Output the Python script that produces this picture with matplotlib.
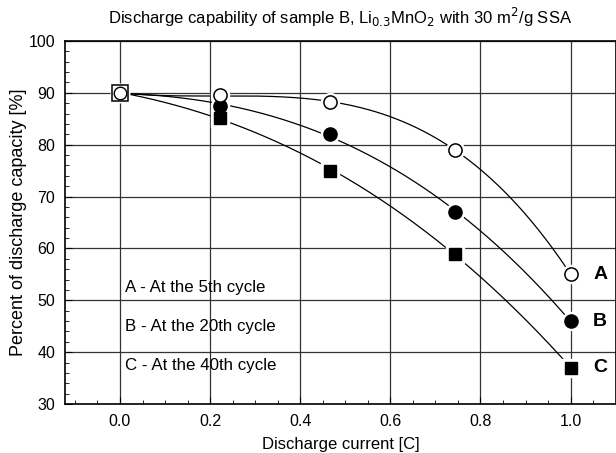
import numpy as np
import matplotlib.pyplot as plt
from matplotlib.ticker import MultipleLocator

plt.rcParams['font.family'] = ['Liberation Sans', 'DejaVu Sans']

# Discharge current [C]
current = [0.0, 0.222, 0.467, 0.744, 1.0]
# Percent of discharge capacity [%]
cap_a = [90, 89.5, 88.2, 79.0, 55.0]
cap_b = [90, 87.5, 82.0, 67.0, 46.0]
cap_c = [90, 85.2, 75.0, 58.9, 37.0]
curve_names = ['A', 'B', 'C']
legend_lines = ['A - At the 5th cycle', 'B - At the 20th cycle', 'C - At the 40th cycle']

fig = plt.figure(figsize=(6.16, 4.53), dpi=100)
ax = fig.add_axes([0.1055, 0.108, 0.894, 0.8015])

ax.set_xlim(-0.122, 1.1)
ax.set_ylim(30, 100)
ax.xaxis.set_major_locator(MultipleLocator(0.2))
ax.xaxis.set_minor_locator(MultipleLocator(0.05))
ax.yaxis.set_major_locator(MultipleLocator(10))
ax.yaxis.set_minor_locator(MultipleLocator(2))
ax.tick_params(which='both', direction='in', top=False, right=False, labelsize=11.5)
ax.tick_params(which='major', length=5, pad=7)
ax.tick_params(which='minor', length=3)
ax.grid(True, which='major', color='#333333', linewidth=0.9)
ax.set_axisbelow(True)
for s in ax.spines.values():
    s.set_linewidth(1.2)

# smooth fitted curves
xs = np.linspace(0.0, 1.0, 200)
for ys in (cap_a, cap_b, cap_c):
    p = np.polyfit(current, ys, 3)
    ax.plot(xs, np.polyval(p, xs), color='black', linewidth=0.9, zorder=3)

x = np.array(current)
# white halo behind markers to break the lines
for ys, mk in ((cap_a, 'o'), (cap_b, 'o'), (cap_c, 's')):
    ax.plot(x, ys, linestyle='none', marker=mk, markersize=13, color='white', zorder=4)
ax.plot(x[1:], cap_a[1:], linestyle='none', marker='o', markersize=9.5,
        markerfacecolor='white', markeredgecolor='black', markeredgewidth=1.1, zorder=6)
ax.plot(x[1:], cap_b[1:], linestyle='none', marker='o', markersize=9.5,
        color='black', zorder=5)
ax.plot(x[1:], cap_c[1:], linestyle='none', marker='s', markersize=8.5,
        color='black', zorder=5)
# shared starting point
ax.plot([x[0]], [cap_a[0]], linestyle='none', marker='s', markersize=11,
        markerfacecolor='white', markeredgecolor='black', markeredgewidth=1.1, zorder=5)
ax.plot([x[0]], [cap_a[0]], linestyle='none', marker='o', markersize=9,
        markerfacecolor='none', markeredgecolor='black', markeredgewidth=1.0, zorder=6)

for name, ys in zip(curve_names, (cap_a, cap_b, cap_c)):
    ax.text(1.05, ys[-1], name, fontsize=14, fontweight='bold', va='center', ha='left')

for i, line in enumerate(legend_lines):
    ax.text(0.011, 52.4 - 7.5 * i, line, fontsize=12.2, va='center', ha='left')

ax.set_xlabel('Discharge current [C]', fontsize=12, labelpad=6)
ax.set_ylabel('Percent of discharge capacity [%]', fontsize=13, labelpad=1)
ax.set_title('Discharge capability of sample B, Li$_{0.3}$MnO$_2$ with 30 m$^2$/g SSA',
             fontsize=12, pad=12)

fig.savefig('out.png', dpi=100)
